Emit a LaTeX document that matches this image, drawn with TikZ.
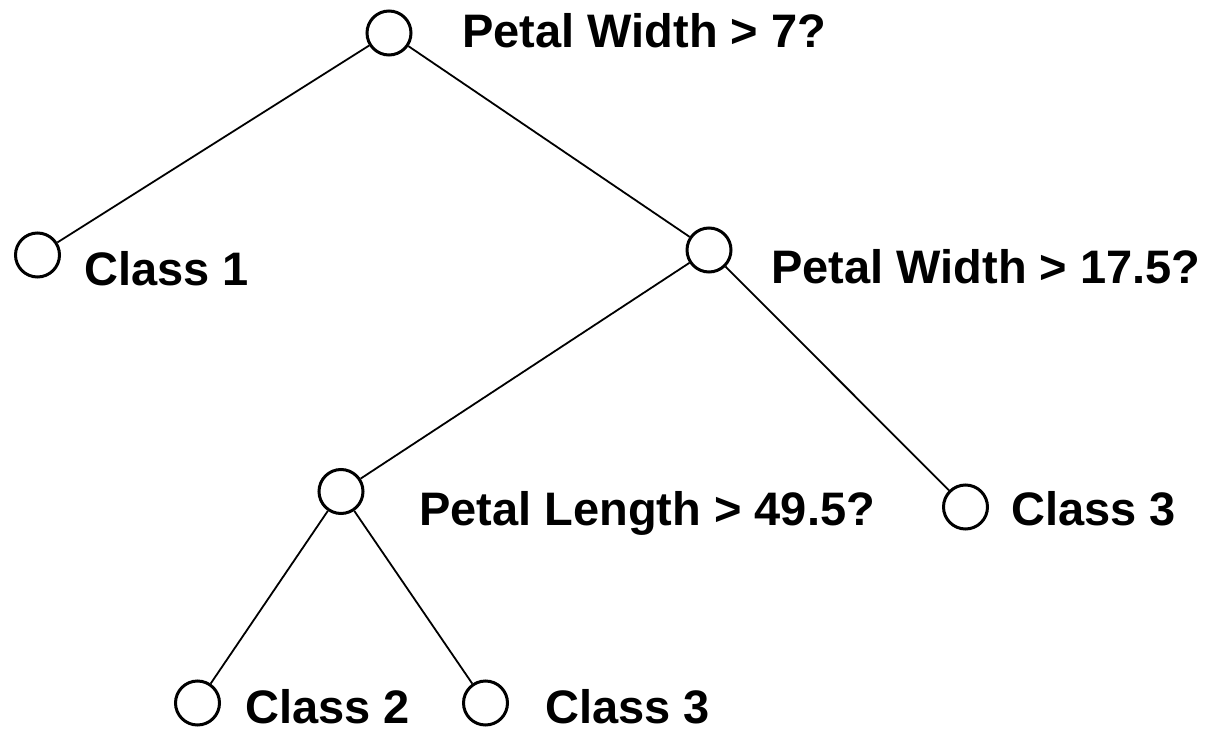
\documentclass[tikz,border=0pt]{standalone}
\usepackage{fontspec}
\setmainfont{Liberation Sans}
\begin{document}
\begin{tikzpicture}[x=1pt,y=-1pt,
  treenode/.style={circle,draw,line width=3pt,minimum size=44pt,inner sep=0pt},
  edge/.style={line width=1.8pt},
  lbl/.style={anchor=base west,inner sep=0pt,text depth=0pt,font=\fontsize{47pt}{56pt}\selectfont\bfseries}]
  \useasboundingbox (0,0) rectangle (1209,735);
  % decision nodes and leaves
  \node[treenode] (root)  at (389,33)    {};
  \node[treenode] (c1)    at (37.5,255)  {};
  \node[treenode] (n2)    at (709,250)   {};
  \node[treenode] (n3)    at (341,491.5) {};
  \node[treenode] (c3a)   at (965.5,507) {};
  \node[treenode] (c2)    at (197.5,703) {};
  \node[treenode] (c3b)   at (485.5,703) {};
  % branches
  \draw[edge] (root) -- (c1);
  \draw[edge] (root) -- (n2);
  \draw[edge] (n2) -- (n3);
  \draw[edge] (n2) -- (c3a);
  \draw[edge] (n3) -- (c2);
  \draw[edge] (n3) -- (c3b);
  % labels
  \node[lbl] (t1) at (462,48)  {Petal Width > 7?};
  \node[lbl] (t2) at (84,285)  {Class 1};
  \node[lbl] (t3) at (771,283) {Petal Width > 17.5?};
  \node[lbl] (t4) at (419,525) {Petal Length > 49.5?};
  \node[lbl] (t5) at (1011,525) {Class 3};
  \node[lbl] (t6) at (245,723) {Class 2};
  \node[lbl] (t7) at (545,723) {Class 3};
\end{tikzpicture}
\end{document}
